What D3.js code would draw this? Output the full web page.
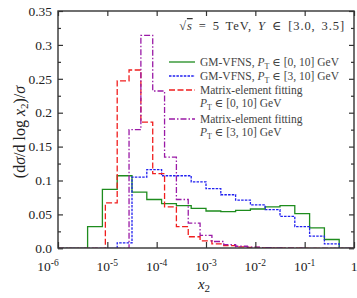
<!DOCTYPE html>
<html>
<head>
<meta charset="utf-8">
<script src="https://cdn.jsdelivr.net/npm/d3@7"></script>
<style>
  body { margin: 0; background: #fff; }
  svg { font-family: "Liberation Serif", "DejaVu Serif", serif; }
</style>
</head>
<body>
<svg width="357" height="298"></svg>
<script>
const width = 357;
const height = 298;
const margin = {top: 11, right: 3, bottom: 50, left: 58};

// bin edges, as powers of ten
const vfnsEdges = [-6, -5.7, -5.4, -5.1, -4.8, -4.5, -4.2, -3.9, -3.6, -3.3, -3,
    -2.7, -2.4, -2.1, -1.8, -1.5, -1.2, -0.9, -0.6, -0.3, 0];
const fitEdges = [-6, -5.76, -5.52, -5.28, -5.04, -4.8, -4.56, -4.32, -4.08, -3.84,
    -3.6, -3.36, -3.12, -2.88, -2.64, -2.4, -2.16, -1.92, -1.68, -1.44, -1.2,
    -0.96, -0.72, -0.48, -0.24, 0];

const vfns010 = [0, 0, 0.032, 0.087, 0.107, 0.083, 0.072, 0.066, 0.063, 0.059,
    0.055, 0.054, 0.056, 0.058, 0.061, 0.063, 0.051, 0.030, 0.013, 0];
const vfns310 = [0, 0, 0, 0, 0.008, 0.105, 0.116, 0.107, 0.107, 0.098,
    0.088, 0.079, 0.071, 0.064, 0.057, 0.047, 0.032, 0.018, 0.0065, 0];
const fit010 = [0, 0, 0, 0, 0.067, 0.247, 0.263, 0.186, 0.110, 0.061, 0.032,
    0.017, 0.011, 0.0065, 0.004, 0.002, 0.0012, 0.0007, 0.0004, 0.0002, 0.0001,
    0, 0, 0, 0];
const fit310 = [0, 0, 0, 0, 0, 0, 0.175, 0.314, 0.232, 0.1345, 0.072, 0.037,
    0.019, 0.010, 0.0055, 0.003, 0.0018, 0.001, 0.0006, 0.0003, 0.0002,
    0, 0, 0, 0];

const yTicks = [0, 0.05, 0.1, 0.15, 0.2, 0.25, 0.3, 0.35];
const yLabels = ['0.0', '0.05', '0.1', '0.15', '0.2', '0.25', '0.3', '0.35'];
const xTicks = [1e-6, 1e-5, 1e-4, 1e-3, 1e-2, 1e-1, 1];

const series = [
    {name: 'GM-VFNS, ', pt: '[0, 10]', second: null, edges: vfnsEdges, values: vfns010,
        color: '#1e8c1e', dash: null},
    {name: 'GM-VFNS, ', pt: '[3, 10]', second: null, edges: vfnsEdges, values: vfns310,
        color: '#2020f0', dash: '2.5,1.2'},
    {name: 'Matrix-element fitting', pt: '[0, 10]', second: true, edges: fitEdges, values: fit010,
        color: '#f01e1e', dash: '6,2.5'},
    {name: 'Matrix-element fitting', pt: '[3, 10]', second: true, edges: fitEdges, values: fit310,
        color: '#9a1aa6', dash: '6,2,1.5,2'}
];

const svg = d3.select('svg');

const xScale = d3.scaleLog()
    .domain([1e-6, 1])
    .range([margin.left, width - margin.right]);

const yScale = d3.scaleLinear()
    .domain([0, 0.35])
    .range([height - margin.bottom + 0.3, margin.top]);

// histograms
svg.append('clipPath').attr('id', 'plot')
    .append('rect')
        .attr('x', margin.left)
        .attr('y', margin.top)
        .attr('width', width - margin.left - margin.right)
        .attr('height', height - margin.top - margin.bottom);

const line = d3.line()
    .x((d) => xScale(d[0]))
    .y((d) => yScale(d[1]))
    .curve(d3.curveStepAfter);

const plot = svg.append('g').attr('clip-path', 'url(#plot)');

series.forEach((s) => {
    const pts = s.values.map((v, i) => [Math.pow(10, s.edges[i]), v]);
    pts.push([Math.pow(10, s.edges[s.edges.length - 1]), s.values[s.values.length - 1]]);
    plot.append('path')
        .datum(pts)
        .attr('d', line)
        .attr('fill', 'none')
        .attr('stroke', s.color)
        .attr('stroke-width', 1.3)
        .attr('stroke-dasharray', s.dash);
});

// axes
const axisColor = '#333';

const xBottom = d3.axisBottom(xScale)
    .tickValues(xTicks)
    .tickSize(-6)
    .tickSizeOuter(0)
    .tickFormat('');
const xTop = d3.axisTop(xScale)
    .tickValues(xTicks)
    .tickSize(-5)
    .tickSizeOuter(0)
    .tickFormat('');

svg.append('g')
    .attr('transform', `translate(0, ${height - margin.bottom})`)
    .call(xBottom);
svg.append('g')
    .attr('transform', `translate(0, ${margin.top})`)
    .call(xTop);

const yMinor = d3.range(0.025, 0.35, 0.05);

svg.append('g')
    .attr('transform', `translate(${margin.left}, 0)`)
    .call(d3.axisLeft(yScale).tickValues(yTicks).tickSize(-5).tickSizeOuter(0).tickFormat(''));
svg.append('g')
    .attr('transform', `translate(${margin.left}, 0)`)
    .call(d3.axisLeft(yScale).tickValues(yMinor).tickSize(-3).tickSizeOuter(0).tickFormat(''));
svg.append('g')
    .attr('transform', `translate(${width - margin.right}, 0)`)
    .call(d3.axisRight(yScale).tickValues(yTicks).tickSize(-5).tickSizeOuter(0).tickFormat(''));
svg.append('g')
    .attr('transform', `translate(${width - margin.right}, 0)`)
    .call(d3.axisRight(yScale).tickValues(yMinor).tickSize(-3).tickSizeOuter(0).tickFormat(''));

svg.selectAll('.domain').remove();
svg.selectAll('.tick line')
    .attr('stroke', axisColor)
    .attr('stroke-width', 1.2);

svg.append('rect')
    .attr('x', margin.left)
    .attr('y', margin.top)
    .attr('width', width - margin.left - margin.right)
    .attr('height', height - margin.top - margin.bottom)
    .attr('fill', 'none')
    .attr('stroke', axisColor)
    .attr('stroke-width', 1.4);

// tick labels
svg.append('g')
    .selectAll('text')
    .data(yTicks)
    .enter()
    .append('text')
        .attr('x', margin.left - 6)
        .attr('y', (d) => yScale(d))
        .attr('dy', '0.35em')
        .style('text-anchor', 'end')
        .style('font-size', '13.5px')
        .attr('fill', '#222')
        .text((d, i) => yLabels[i]);

const xLab = svg.append('g')
    .selectAll('text')
    .data(xTicks)
    .enter()
    .append('text')
        .attr('x', (d, i) => xScale(d) + (i === 0 ? -10 : 0))
        .attr('y', height - margin.bottom + 23)
        .style('text-anchor', 'middle')
        .style('font-size', '13.5px')
        .attr('fill', '#222');
xLab.each(function (d) {
    const e = Math.round(Math.log10(d));
    const t = d3.select(this);
    if (e === 0) {
        t.text('1');
        return;
    }
    t.append('tspan').text('10');
    t.append('tspan')
        .attr('dy', -5)
        .style('font-size', '9.5px')
        .text(String(e));
});

// axis titles
svg.append('text')
    .attr('x', 204)
    .attr('y', 289)
    .style('text-anchor', 'middle')
    .style('font-size', '15px')
    .attr('fill', '#222')
    .call((t) => {
        t.append('tspan').style('font-style', 'italic').text('x');
        t.append('tspan').attr('dy', 3).style('font-size', '11px').text('2');
    });

svg.append('text')
    .attr('transform', 'rotate(-90)')
    .attr('x', -132)
    .attr('y', 25)
    .style('text-anchor', 'middle')
    .style('font-size', '16px')
    .attr('fill', '#222')
    .call((t) => {
        t.append('tspan').text('(d');
        t.append('tspan').style('font-style', 'italic').text('σ');
        t.append('tspan').text('/d log ');
        t.append('tspan').style('font-style', 'italic').text('x');
        t.append('tspan').attr('dy', 3).style('font-size', '11px').text('2');
        t.append('tspan').attr('dy', -3).text(')/');
        t.append('tspan').style('font-style', 'italic').text('σ');
    });

// header
svg.append('text')
    .attr('x', 345)
    .attr('y', 30)
    .style('text-anchor', 'end')
    .style('font-size', '12.5px')
    .style('letter-spacing', '0.9px')
    .style('word-spacing', '2px')
    .attr('fill', '#333')
    .call((t) => {
        t.append('tspan').text('√');
        t.append('tspan').style('font-style', 'italic')
            .style('text-decoration', 'overline').text('s');
        t.append('tspan').text(' = 5 TeV, ');
        t.append('tspan').style('font-style', 'italic').text('Y');
        t.append('tspan').text(' ∈ [3.0, 3.5]');
    });

// legend
const legendRows = [62, 76, 90, 119];
const legendFont = '11.5px';
const legend = svg.append('g');

series.forEach((s, i) => {
    const y = legendRows[i];
    legend.append('line')
        .attr('x1', 169)
        .attr('x2', 195)
        .attr('y1', y)
        .attr('y2', y)
        .attr('stroke', s.color)
        .attr('stroke-width', 1.3)
        .attr('stroke-dasharray', s.dash);

    const ptText = (t) => {
        t.append('tspan').style('font-style', 'italic').text('P');
        t.append('tspan').attr('dy', 2.5).style('font-size', '8px').text('T');
        t.append('tspan').attr('dy', -2.5).text(' ∈ ' + s.pt + ' GeV');
    };

    const first = legend.append('text')
        .attr('x', 200)
        .attr('y', y + 4)
        .style('font-size', legendFont)
        .attr('fill', '#444');
    first.append('tspan').text(s.name);
    if (s.second) {
        legend.append('text')
            .attr('x', 200)
            .attr('y', y + 17)
            .style('font-size', legendFont)
            .attr('fill', '#444')
            .call(ptText);
    } else {
        first.call(ptText);
    }
});
</script>
</body>
</html>
